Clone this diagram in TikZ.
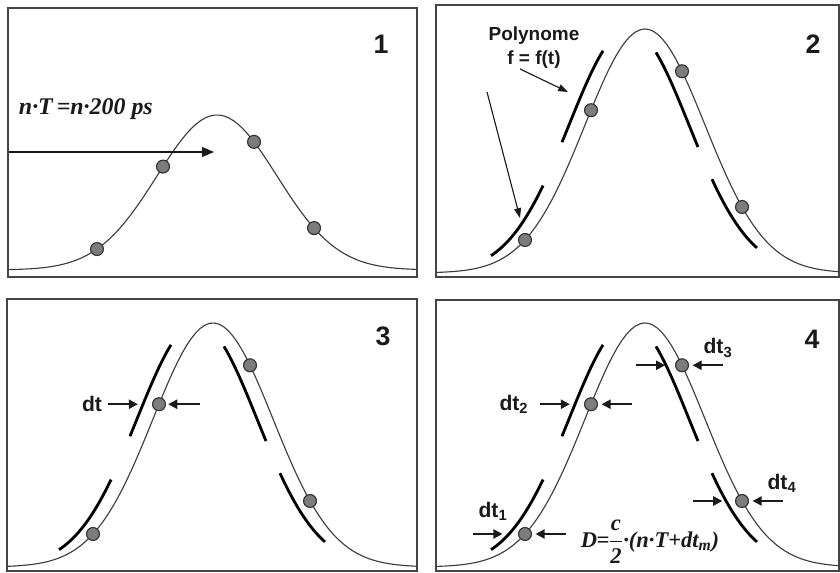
\documentclass[tikz,border=0pt]{standalone}
\usepackage{amsmath}
\usepackage{fontspec}
\setmainfont{Liberation Sans}
\newfontfamily\tnr{Liberation Serif}
\usetikzlibrary{arrows.meta,positioning}
\definecolor{ink}{HTML}{1A1A1A}
\definecolor{framec}{HTML}{454545}
\definecolor{dotfill}{HTML}{7C7C7C}
\tikzset{
  frame/.style={draw=framec, line width=1.4pt},
  curve/.style={draw=ink!85, line width=0.8pt},
  poly/.style={draw=black, line width=2pt},
  dot/.style={circle, draw=ink!90, fill=dotfill, line width=0.8pt, minimum size=9.2pt, inner sep=0pt},
  num/.style={font=\bfseries\fontsize{19}{22}\selectfont, text=ink},
  lbl/.style={font=\bfseries\fontsize{15}{18}\selectfont, text=ink},
  plbl/.style={font=\bfseries\fontsize{13.5}{16}\selectfont, text=ink, align=center},
  frm/.style={font=\tnr\bfseries\itshape\fontsize{15}{18}\selectfont, text=ink},
  tarr/.style={-{Triangle[length=8.5pt, width=7pt]}, line width=0.9pt, draw=ink},
  parr/.style={-{Triangle[length=7pt, width=5pt]}, line width=0.8pt, draw=ink},
  dtarr/.style={-{Triangle[length=6.5pt, width=6.5pt]}, line width=1.5pt, draw=ink},
}

\begin{document}
\begin{tikzpicture}[x=0.025cm, y=-0.025cm]
\useasboundingbox (0,0) rectangle (840,572);

% --- Panel 1: sampled pulse ---
\draw[frame] (8,8) rectangle (417,277);
\draw[curve] plot[domain=-3.483:3.333, samples=90] ({217+60*\x},{270-155*exp(-0.5*(\x)*(\x))});
\foreach \t [count=\i] in {-2,-0.9,0.617,1.617}
  \node[dot] (d1\i) at ({217+60*\t},{270-155*exp(-0.5*(\t)*(\t))}) {};
\node[num] (n1) at (381,44) {1};
\node[frm, font=\tnr\bfseries\itshape\fontsize{17}{20}\selectfont, anchor=west] (shift) at (14,109) {n·T\,=n·200 ps};
\coordinate (a1s) at (9,152);
\coordinate (a1e) at (214,152);
\draw[tarr] (a1s) -- (a1e);

% --- Panel 2: polynomial fits ---
\draw[frame] (436,5) rectangle (839,277);
\draw[curve] plot[domain=-3.483:3.233, samples=90] ({645+60*\x},{273-244*exp(-0.5*(\x)*(\x))});
\foreach \a/\b in {-2.3/-1.433, -1.117/-0.433, 0.45/1.15, 1.383/2.133}
  \draw[poly] plot[domain=\a:\b, samples=20] ({629+60*\x},{273-244*exp(-0.5*(\x)*(\x))});
\foreach \t [count=\i] in {-2,-0.9,0.617,1.617}
  \node[dot] (d2\i) at ({645+60*\t},{273-244*exp(-0.5*(\t)*(\t))}) {};
\node[num] (n2) at (813,44) {2};
\node[plbl] (polyname) at (534,36) {Polynome};
\node[plbl, below=-3pt of polyname] (fpoly) {f = f(t)};
\coordinate (p2s) at (520,69);
\coordinate (p2e) at (568,92);
\coordinate (q2s) at (487,92);
\coordinate (q2e) at (520,218);
\draw[parr] (p2s) -- (p2e);
\draw[parr] (q2s) -- (q2e);

% --- Panel 3: time offset dt ---
\draw[frame] (7,299) rectangle (417,571);
\draw[curve] plot[domain=-3.433:3.4, samples=90] ({213+60*\x},{567-244*exp(-0.5*(\x)*(\x))});
\foreach \a/\b in {-2.3/-1.433, -1.117/-0.433, 0.45/1.15, 1.383/2.133}
  \draw[poly] plot[domain=\a:\b, samples=20] ({197+60*\x},{567-244*exp(-0.5*(\x)*(\x))});
\foreach \t [count=\i] in {-2,-0.9,0.617,1.617}
  \node[dot] (d3\i) at ({213+60*\t},{567-244*exp(-0.5*(\t)*(\t))}) {};
\node[num] (n3) at (383,336) {3};
\draw[dtarr] ([xshift=-31pt]d32.west) coordinate (dt3s) -- ([xshift=-10pt]d32.west);
\draw[dtarr] ([xshift=24pt]d32.east) -- ([xshift=1.5pt]d32.east);
\node[lbl, anchor=east] (dtl) at ([xshift=-1pt]dt3s) {dt};

% --- Panel 4: all offsets and distance ---
\draw[frame] (436,300) rectangle (839,571);
\draw[curve] plot[domain=-3.483:3.233, samples=90] ({645+60*\x},{567-244*exp(-0.5*(\x)*(\x))});
\foreach \a/\b in {-2.3/-1.433, -1.117/-0.433, 0.45/1.15, 1.383/2.133}
  \draw[poly] plot[domain=\a:\b, samples=20] ({629+60*\x},{567-244*exp(-0.5*(\x)*(\x))});
\foreach \t [count=\i] in {-2,-0.9,0.617,1.617}
  \node[dot] (d4\i) at ({645+60*\t},{567-244*exp(-0.5*(\t)*(\t))}) {};
\node[num] (n4) at (812,339) {4};
\foreach \i/\g in {1/11, 2/10, 3/7, 4/9}{
  \draw[dtarr] ([xshift={-(\g+21)*1pt}]d4\i.west) coordinate (s\i) -- ([xshift={-\g*1pt}]d4\i.west);
  \draw[dtarr] ([xshift=24pt]d4\i.east) -- ([xshift=2.5pt]d4\i.east);
}
\node[lbl] (dt1) at (493,511) {dt\textsubscript{1}};
\node[lbl, anchor=east] (dt2) at ([xshift=-5pt]s2) {dt\textsubscript{2}};
\node[lbl] (dt3) at (718,348) {dt\textsubscript{3}};
\node[lbl] (dt4) at (782,483) {dt\textsubscript{4}};
\node[frm, font=\tnr\bfseries\itshape\fontsize{16}{19}\selectfont, anchor=west] (dist) at (576,542) {D\kern-0.5pt=\kern-0.5pt$\dfrac{\text{c}}{\text{2}}$·(n·T+dt$_{\text{m}}$)};

\end{tikzpicture}
\end{document}
